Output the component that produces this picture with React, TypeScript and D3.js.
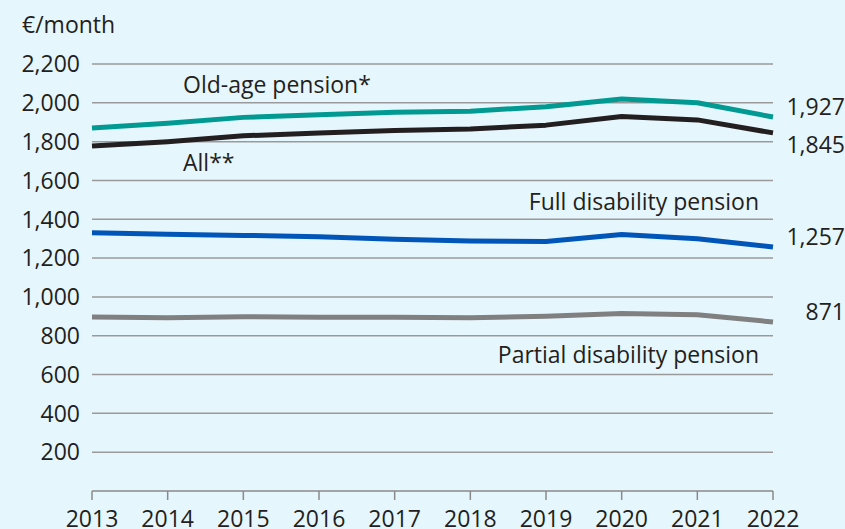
import React from "react";
import * as d3 from "d3";

const years = [2013, 2014, 2015, 2016, 2017, 2018, 2019, 2020, 2021, 2022];
const oldAge = [1870, 1895, 1925, 1938, 1952, 1957, 1980, 2020, 2000, 1927];
const all = [1778, 1800, 1830, 1845, 1858, 1865, 1885, 1930, 1912, 1845];
const fullDis = [1330, 1323, 1317, 1310, 1297, 1288, 1285, 1322, 1300, 1257];
const partDis = [897, 893, 898, 895, 895, 893, 900, 915, 908, 871];
const yTicks = [200, 400, 600, 800, 1000, 1200, 1400, 1600, 1800, 2000, 2200];

const W = 845, H = 529;
const FONT = "'Open Sans', 'Noto Sans', sans-serif";
const FS = 23;

export default function App() {
  const x = d3.scaleLinear().domain([2013, 2022]).range([92, 773]);
  const y = d3.scaleLinear().domain([0, 2200]).range([491, 64]);
  const line = (vals: number[]) =>
    d3.line<number>().x((_, i) => x(years[i])).y((d) => y(d))(vals) as string;
  const fmt = d3.format(",");
  const series = [
    { vals: partDis, color: "#808080" },
    { vals: fullDis, color: "#0055b8" },
    { vals: all, color: "#231f20" },
    { vals: oldAge, color: "#009a93" },
  ];
  const last = years.length - 1;
  const T = (props: any) => (
    <text fontFamily={FONT} fontSize={FS} fill="#231f20" {...props} />
  );
  return (
    <svg width={W} height={H} style={{ position: "absolute", left: 0, top: 0, background: "#e6f6fd" }}>
      <rect x={0} y={0} width={W} height={H} fill="#e6f6fd" />
      {yTicks.map((t) => (
        <g key={t}>
          <line x1={x(2013)} x2={x(2022)} y1={y(t)} y2={y(t)} stroke="#9a9a9a" strokeWidth={1.5} />
          <T x={80} y={y(t)} dy="0.36em" textAnchor="end">{fmt(t)}</T>
        </g>
      ))}
      <line x1={x(2013)} x2={x(2022)} y1={y(0)} y2={y(0)} stroke="#8a8a8a" strokeWidth={1.5} />
      {years.map((yr) => (
        <g key={yr}>
          <line x1={x(yr)} x2={x(yr)} y1={y(0)} y2={y(0) + 9} stroke="#8a8a8a" strokeWidth={1.5} />
          <T x={x(yr)} y={527} textAnchor="middle">{yr}</T>
        </g>
      ))}
      {series.map((s, i) => (
        <path key={i} d={line(s.vals)} fill="none" stroke={s.color} strokeWidth={5} strokeLinejoin="round" />
      ))}
      <T x={22} y={33}>€/month</T>
      <T x={183} y={93}>Old-age pension*</T>
      <T x={183} y={171}>All**</T>
      <T x={759} y={210} textAnchor="end">Full disability pension</T>
      <T x={759} y={363} textAnchor="end">Partial disability pension</T>
      <T x={845} y={y(oldAge[last]) - 10} dy="0.36em" textAnchor="end">{fmt(oldAge[last])}</T>
      <T x={845} y={y(all[last]) + 12} dy="0.36em" textAnchor="end">{fmt(all[last])}</T>
      <T x={845} y={y(fullDis[last]) - 10} dy="0.36em" textAnchor="end">{fmt(fullDis[last])}</T>
      <T x={845} y={y(partDis[last]) - 10} dy="0.36em" textAnchor="end">{partDis[last]}</T>
    </svg>
  );
}
